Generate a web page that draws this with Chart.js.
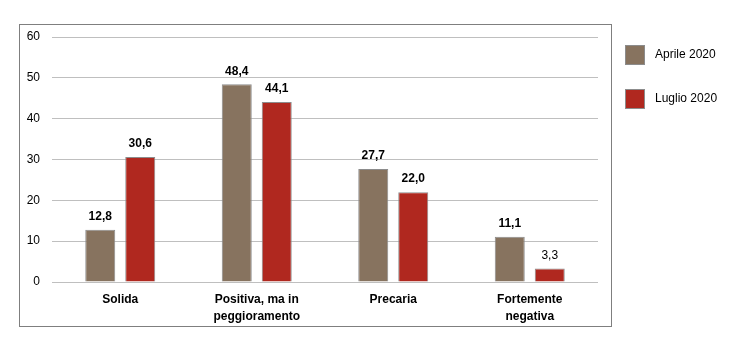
<!DOCTYPE html>
<html>
<head>
<meta charset="utf-8">
<script src="https://cdn.jsdelivr.net/npm/chart.js@4"></script>
<style>
  html, body { margin: 0; padding: 0; background: #fff; }
  #wrap { width: 734px; height: 339px; }
</style>
</head>
<body>
<div id="wrap"><canvas id="grafico"></canvas></div>
<script>
// dati
const categorie = [["Solida"], ["Positiva, ma in", "peggioramento"], ["Precaria"], ["Fortemente", "negativa"]];
const aprile2020 = [12.8, 48.4, 27.7, 11.1];
const luglio2020 = [30.6, 44.1, 22.0, 3.3];
const tickY = [0, 10, 20, 30, 40, 50, 60];

const FONT = "'Liberation Sans', Arial, sans-serif";
const MARRONE = "#87735F";
const ROSSO = "#B0281F";

// cornice, legenda ed etichette dei valori
const decorazioni = {
  id: "decorazioni",
  afterDraw(chart) {
    const ctx = chart.ctx;
    ctx.save();
    // cornice del grafico
    ctx.strokeStyle = "#7F7F7F";
    ctx.lineWidth = 1;
    ctx.strokeRect(19.5, 24.5, 592, 302);

    // valori sopra le barre
    ctx.fillStyle = "#000";
    ctx.textAlign = "center";
    ctx.textBaseline = "bottom";
    chart.data.datasets.forEach((ds, i) => {
      chart.getDatasetMeta(i).data.forEach((bar, j) => {
        const v = ds.data[j];
        const grassetto = !(i === 1 && j === 3);
        ctx.font = (grassetto ? "bold " : "") + "12px " + FONT;
        ctx.fillText(v.toFixed(1).replace(".", ","), bar.x, bar.y - 7);
      });
    });

    // legenda
    ctx.textAlign = "left";
    ctx.textBaseline = "middle";
    ctx.font = "12px " + FONT;
    chart.data.datasets.forEach((ds, i) => {
      const y = 45 + i * 44;
      ctx.fillStyle = ds.backgroundColor;
      ctx.fillRect(625, y, 20, 20);
      ctx.strokeStyle = "#8C8C8C";
      ctx.strokeRect(625.5, y + 0.5, 19, 19);
      ctx.fillStyle = "#000";
      ctx.fillText(ds.label, 655, y + 10);
    });
    ctx.restore();
  }
};

new Chart(document.getElementById("grafico"), {
  type: "bar",
  data: {
    labels: categorie,
    datasets: [
      {
        label: "Aprile 2020",
        data: aprile2020,
        backgroundColor: MARRONE,
        borderColor: "#8C8C8C",
        borderWidth: 1,
        categoryPercentage: 0.586,
        barPercentage: 0.75
      },
      {
        label: "Luglio 2020",
        data: luglio2020,
        backgroundColor: ROSSO,
        borderColor: "#8C8C8C",
        borderWidth: 1,
        categoryPercentage: 0.586,
        barPercentage: 0.75
      }
    ]
  },
  options: {
    responsive: true,
    maintainAspectRatio: false,
    animation: false,
    layout: { padding: { top: 37, left: 20, right: 136, bottom: 12 } },
    plugins: {
      legend: { display: false },
      tooltip: { enabled: false }
    },
    scales: {
      x: {
        grid: { display: false },
        border: { display: false },
        ticks: {
          color: "#000",
          font: { family: FONT, size: 12, weight: "bold", lineHeight: 1.35 },
          padding: 2,
          maxRotation: 0,
          autoSkip: false
        },
        afterFit(scale) { scale.height = 45; }
      },
      y: {
        min: 0,
        max: 60,
        afterBuildTicks(scale) { scale.ticks = tickY.map(v => ({ value: v })); },
        grid: { color: "#BFBFBF", drawTicks: false, lineWidth: 1 },
        border: { display: false },
        ticks: {
          color: "#000",
          font: { family: FONT, size: 12 },
          padding: 12
        },
        afterFit(scale) { scale.width = 32; }
      }
    }
  },
  plugins: [decorazioni]
});
</script>
</body>
</html>
